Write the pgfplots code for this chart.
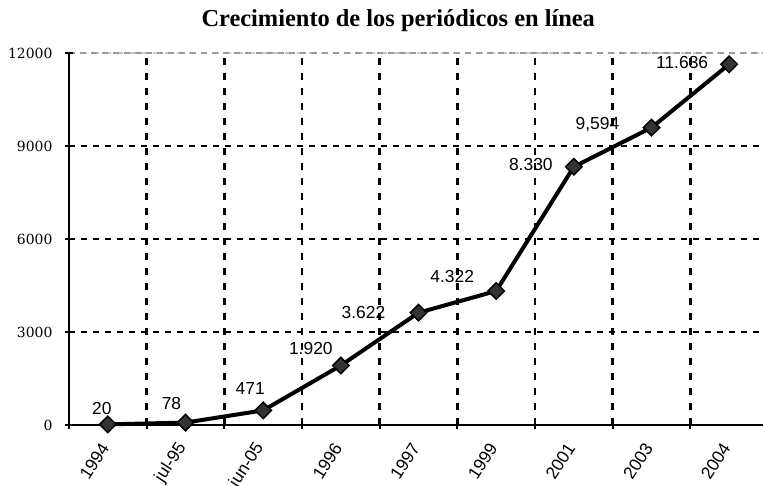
\documentclass[border=0pt]{standalone}
\usepackage{pgfplots}
\pgfplotsset{compat=1.18}
\usepackage{pgfplotstable}
\usepackage{fontspec}
\setmainfont{DejaVu Serif}
\newfontfamily\sansA{Liberation Sans}
\newfontfamily\serifA{DejaVu Serif}
\newfontfamily\titlefont{Liberation Serif}

\pgfplotstableread{
x y lab dx dy
0 20 20 -6 16
1 78 78 -14 19
2 471 471 -13 22
3 1920 1.920 -30 17
4 3622 3.622 -55 0
5 4322 4.322 -44 15
6 8330 8.330 -43 2
7 9594 9,594 -54 3
8 11636 11.636 -47 2
}\datatable

\begin{document}
\begin{tikzpicture}
\begin{axis}[
  scale only axis, width=699bp, height=372bp,
  anchor=south west, at={(69bp,61bp)},
  xmin=-0.5, xmax=8.5, ymin=0, ymax=12000,
  clip=false,
  scaled y ticks=false,
  axis x line*=bottom, axis y line*=left,
  axis line style={black, line width=2.5bp},
  ytick={0,3000,6000,9000},
  extra y ticks={12000},
  extra y tick style={major grid style={gray!45, line width=2.5bp, postaction={draw, gray!80, line width=1.2bp, dash pattern=on 6bp off 5bp}}},
  ymajorgrids,
  major grid style={black, line width=2.5bp, dash pattern=on 6bp off 6bp},
  xtick={0,...,8},
  xticklabels={1994,jul-95,jun-05,1996,1997,1999,2001,2003,2004},
  minor xtick={-0.5,0.5,...,8.5},
  xminorgrids,
  minor grid style={black, line width=2.5bp, dash pattern=on 7bp off 8bp},
  major x tick style={draw=none},
  tick align=center,
  major tick length=8bp, minor tick length=8bp,
  tick style={black, line width=2bp},
  /pgf/number format/.cd, set thousands separator={}, assume math mode=true,
  /pgfplots/.cd,
  yticklabel style={font=\serifA\fontsize{14}{16}\selectfont, anchor=east, xshift=-9bp},
  xticklabel style={font=\sansA\fontsize{17.5}{19}\selectfont, yshift=-13bp, xshift=-1bp, rotate=57, anchor=east},
  title={Crecimiento de los periódicos en línea},
  title style={font=\titlefont\bfseries\fontsize{24.5}{27}\selectfont, at={(0.471,1)}, anchor=base, yshift=21bp},
]
\addplot[black, line width=4bp, mark=square*, mark size=5.8bp,
  mark options={rotate=45, fill=black!80, draw=black, line width=1.5bp},
  point meta=explicit symbolic,
  visualization depends on={\thisrow{dx} \as \dx},
  visualization depends on={\thisrow{dy} \as \dy},
  nodes near coords,
  every node near coord/.append style={anchor=center, xshift=\dx bp, yshift=\dy bp, font=\sansA\fontsize{17.5}{19}\selectfont, text=black, inner sep=0pt},
] table[x=x, y=y, meta=lab] {\datatable};
\end{axis}
\pgfresetboundingbox
\useasboundingbox (0,0) rectangle (763bp,486bp);
\end{tikzpicture}
\end{document}
